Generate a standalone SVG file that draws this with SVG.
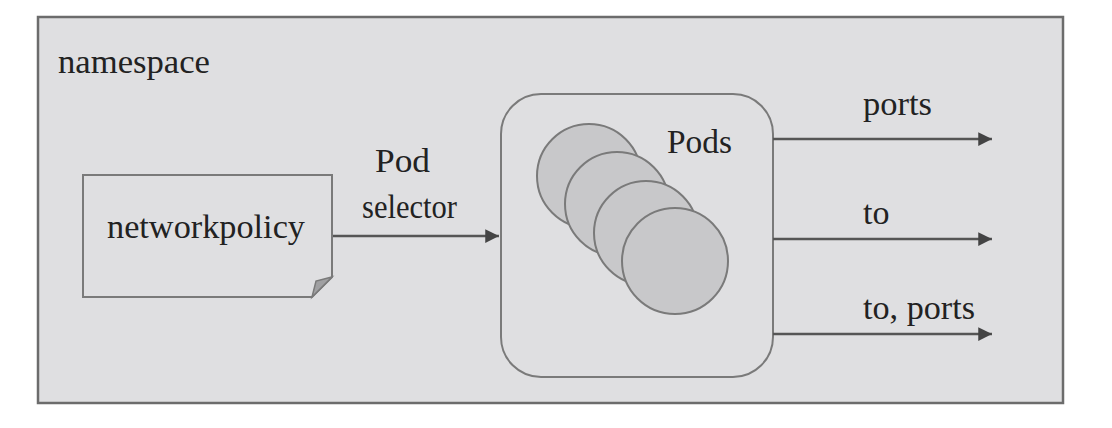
<svg xmlns="http://www.w3.org/2000/svg" width="1112" height="428" viewBox="0 0 1112 428">
<defs>
<style>
.conn{stroke:#555;stroke-width:2.5;fill:none}
.pod{fill:#c8c8ca;stroke:#7a7a7a;stroke-width:2}
</style>
<marker id="ah" viewBox="0 0 10 10" refX="10" refY="5" markerWidth="5.5" markerHeight="5.5" markerUnits="strokeWidth" orient="auto">
<path d="M0,0 L10,5 L0,10 z" fill="#444"/>
</marker>
</defs>
<rect width="1112" height="428" fill="#fff"/>
<g font-family="Times New Roman, Liberation Serif, Tinos, serif" font-size="34" fill="#222">
<g id="namespace">
<rect x="38" y="17" width="1025" height="386" fill="#dfdfe1" stroke="#6c6c6c" stroke-width="2.5"/>
<text x="58" y="73" textLength="152" lengthAdjust="spacingAndGlyphs">namespace</text>
</g>
<g id="networkpolicy">
<path d="M83,175 H332 V277 L312,297 H83 Z" fill="#dfdfe1" stroke="#7a7a7a" stroke-width="2"/>
<path d="M332,277 L312,297 L316,281 Z" fill="#a0a0a2" stroke="#7a7a7a" stroke-width="1.5"/>
<text x="107" y="238" textLength="198" lengthAdjust="spacingAndGlyphs">networkpolicy</text>
</g>
<g id="pods">
<rect x="501" y="94" width="272" height="283" rx="40" ry="40" fill="#dfdfe1" stroke="#7a7a7a" stroke-width="2"/>
<circle class="pod" cx="589" cy="176" r="52"/>
<circle class="pod" cx="617" cy="204" r="52"/>
<circle class="pod" cx="646" cy="233" r="52"/>
<circle class="pod" cx="675" cy="261" r="53"/>
<text x="667" y="153" textLength="65" lengthAdjust="spacingAndGlyphs">Pods</text>
</g>
<g id="connectors">
<line class="conn" x1="333" y1="236" x2="499" y2="236" marker-end="url(#ah)"/>
<line class="conn" x1="773" y1="139" x2="992" y2="139" marker-end="url(#ah)"/>
<line class="conn" x1="773" y1="239" x2="992" y2="239" marker-end="url(#ah)"/>
<line class="conn" x1="773" y1="334" x2="992" y2="334" marker-end="url(#ah)"/>
<text x="375" y="172" textLength="55" lengthAdjust="spacingAndGlyphs">Pod</text>
<text x="362" y="218" textLength="95" lengthAdjust="spacingAndGlyphs">selector</text>
<text x="863" y="115" textLength="69" lengthAdjust="spacingAndGlyphs">ports</text>
<text x="863" y="224">to</text>
<text x="863" y="319" textLength="112" lengthAdjust="spacingAndGlyphs">to, ports</text>
</g>
</g>
</svg>
